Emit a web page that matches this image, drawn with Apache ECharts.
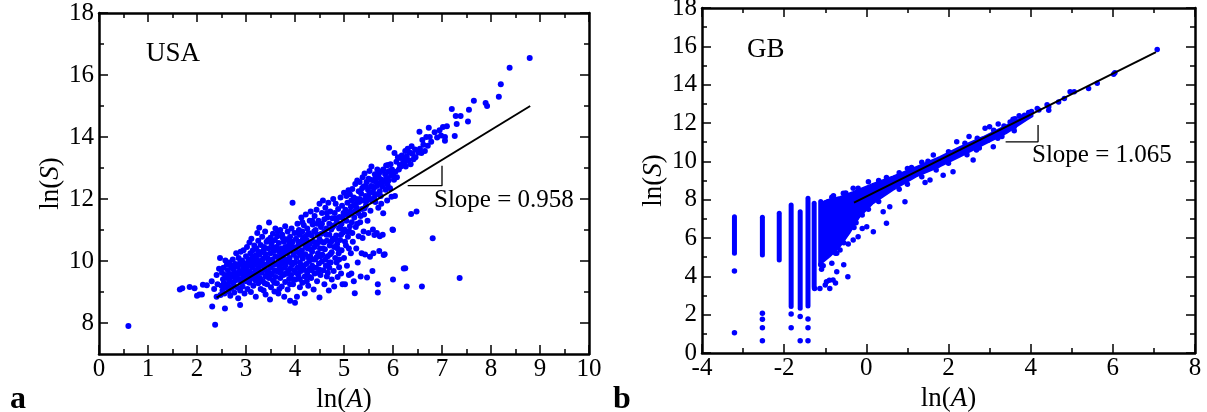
<!DOCTYPE html>
<html>
<head>
<meta charset="utf-8">
<script src="https://cdn.jsdelivr.net/npm/echarts@6/dist/echarts.min.js"></script>
<style>
html,body{margin:0;padding:0;background:#fff;}
#c{width:1207px;height:412px;}
</style>
</head>
<body>
<div id="c"></div>
<script>
// ---------------- DATA ----------------
const usaXTicks = [0,1,2,3,4,5,6,7,8,9,10];
const usaXMinor = [0.5,1.5,2.5,3.5,4.5,5.5,6.5,7.5,8.5,9.5];
const usaYTicks = [8,10,12,14,16,18];
const usaYMinor = [9,11,13,15,17];
const gbXTicks = [-4,-2,0,2,4,6,8];
const gbXMinor = [-3,-1,1,3,5,7];
const gbYTicks = [0,2,4,6,8,10,12,14,16,18];
const gbYMinor = [1,3,5,7,9,11,13,15,17];

const usaPoints = [
[0.60,7.90],[1.65,9.08],[1.70,9.12],[1.85,9.16],[1.95,9.12],[2.00,8.88],[2.05,8.92],[2.10,8.92],[2.12,9.23],[2.20,9.22],[2.30,9.35],[2.31,8.53],[2.37,7.94],[2.35,9.10],[2.40,9.55],[2.42,9.25],[2.45,9.75],[2.47,10.10],[2.48,8.90],[2.57,8.47],[2.88,8.58],[2.40,8.85],
[2.50,9.20],[2.51,9.62],[2.52,9.05],[2.53,9.41],[2.54,9.78],[2.55,9.30],[2.56,8.95],[2.57,9.55],[2.58,10.02],[2.59,9.15],[2.60,9.48],
[2.61,9.88],[2.62,9.25],[2.63,9.70],[2.64,9.02],[2.65,9.40],[2.66,9.95],[2.67,9.58],[2.68,8.88],[2.69,9.33],[2.70,9.80],
[2.71,9.12],[2.72,9.50],[2.73,10.05],[2.74,9.28],[2.75,9.72],[2.76,8.98],[2.77,9.62],[2.78,9.90],[2.79,9.38],[2.80,10.25],
[2.81,9.55],[2.82,9.15],[2.83,9.82],[2.84,8.80],[2.85,10.10],[2.86,9.42],[2.87,9.68],[2.88,9.05],[2.89,10.30],[2.90,9.90],[2.90,9.30],
[2.91,9.60],[2.92,10.02],[2.93,9.18],[2.94,9.78],[2.95,10.35],[2.96,9.45],[2.97,8.95],[2.98,9.92],[2.99,9.65],[3.00,10.15],[3.00,9.35],
[3.01,9.75],[3.02,10.45],[3.03,9.10],[3.04,9.55],[3.05,10.05],[3.06,9.85],[3.07,10.60],[3.07,9.30],[3.08,9.65],[3.09,10.25],[3.10,9.00],[3.10,9.95],
[3.11,10.72],[3.12,9.48],[3.13,9.80],[3.14,10.35],[3.15,9.20],[3.15,10.05],[3.16,9.60],[3.17,10.50],[3.18,9.88],[3.19,9.38],[3.20,10.18],[3.20,9.70],[3.20,8.85],
[3.21,10.40],[3.22,9.55],[3.23,10.90],[3.24,9.95],[3.25,9.28],[3.25,10.65],[3.26,9.78],[3.27,11.07],[3.27,10.20],[3.28,9.45],[3.29,10.00],[3.30,9.10],[3.30,10.52],[3.30,9.85],
[3.31,10.28],[3.32,9.62],[3.33,10.78],[3.34,9.35],[3.35,10.08],[3.35,9.90],[3.36,9.05],[3.37,10.45],[3.38,9.72],[3.39,10.95],[3.40,9.50],[3.40,10.22],[3.40,8.92],
[3.41,9.88],[3.42,10.62],[3.43,9.25],[3.44,10.10],[3.45,9.68],[3.46,10.40],[3.47,11.24],[3.47,9.45],[3.48,9.98],[3.49,8.76],[3.50,10.75],[3.50,9.80],[3.50,10.25],
[3.51,9.15],[3.52,10.55],[3.53,9.60],[3.54,10.05],[3.55,9.38],[3.55,10.88],[3.56,9.88],[3.57,10.32],[3.58,9.02],[3.58,9.70],[3.59,10.68],[3.60,10.15],[3.60,9.48],[3.60,11.05],
[3.61,9.90],[3.62,10.45],[3.63,9.28],[3.64,10.80],[3.65,9.65],[3.65,10.12],[3.66,8.95],[3.67,10.58],[3.68,9.82],[3.69,10.28],[3.70,9.45],[3.70,11.00],[3.70,10.00],
[3.71,9.70],[3.72,10.40],[3.73,9.18],[3.74,10.85],[3.75,9.95],[3.75,10.18],[3.76,9.55],[3.77,10.62],[3.78,8.85],[3.78,10.05],[3.79,9.78],[3.80,10.45],[3.80,9.32],[3.80,11.12],
[3.81,9.88],[3.82,10.70],[3.83,9.60],[3.84,10.25],[3.85,9.08],[3.85,10.95],[3.86,9.98],[3.87,10.50],[3.88,9.42],[3.89,10.10],[3.90,8.72],[3.90,9.75],[3.90,10.78],
[3.91,10.35],[3.92,9.55],[3.93,11.05],[3.94,9.88],[3.95,11.88],[3.95,10.62],[3.96,9.25],[3.97,10.20],[3.98,9.70],[3.99,10.90],[4.00,8.65],[4.00,10.42],[4.00,9.95],
[4.01,9.40],[4.02,10.72],[4.03,10.10],[4.04,8.85],[4.05,11.20],[4.05,9.78],[4.06,10.48],[4.07,9.55],[4.08,11.00],[4.09,10.25],[4.10,9.15],[4.10,10.85],[4.10,9.95],
[4.11,10.60],[4.12,9.68],[4.13,11.40],[4.14,10.35],[4.15,9.30],[4.15,10.95],[4.16,10.08],[4.17,9.85],[4.18,11.15],[4.19,10.55],[4.20,9.50],[4.20,10.78],[4.20,8.95],
[4.21,10.22],[4.22,11.50],[4.23,9.90],[4.24,10.68],[4.25,9.62],[4.25,11.05],[4.26,10.40],[4.27,9.20],[4.28,10.90],[4.29,10.00],[4.30,11.30],[4.30,9.75],[4.30,10.55],
[4.31,10.15],[4.32,11.60],[4.33,9.45],[4.34,10.82],[4.35,10.30],[4.35,9.85],[4.36,11.18],[4.37,10.62],[4.38,9.08],[4.39,10.95],[4.40,10.45],[4.40,9.60],[4.40,11.45],
[4.41,10.05],[4.42,11.00],[4.43,9.78],[4.44,11.65],[4.45,10.55],[4.45,9.35],[4.46,10.85],[4.47,10.25],[4.48,11.30],[4.49,9.92],[4.50,10.70],[4.50,8.82],[4.50,11.85],
[4.51,10.40],[4.52,9.55],[4.53,11.10],[4.54,10.88],[4.55,9.98],[4.55,11.55],[4.56,10.20],[4.57,11.95],[4.58,9.70],[4.59,10.60],[4.60,11.35],[4.60,9.25],[4.60,10.95],
[4.61,10.38],[4.62,11.72],[4.63,9.85],[4.64,11.05],[4.65,10.65],[4.65,9.50],[4.66,11.40],[4.67,10.15],[4.68,11.88],[4.69,9.05],[4.70,10.85],[4.70,11.20],[4.70,9.78],
[4.71,10.50],[4.72,11.60],[4.73,9.95],[4.74,11.02],[4.75,10.28],[4.75,9.40],[4.76,11.38],[4.77,10.72],[4.78,12.00],[4.79,9.68],[4.80,11.15],[4.80,10.45],[4.80,9.18],
[4.81,11.55],[4.82,10.10],[4.83,11.85],[4.84,10.82],[4.85,9.95],[4.85,11.30],[4.86,10.55],[4.87,9.48],[4.88,11.68],[4.89,10.25],[4.90,11.05],[4.90,9.80],
[4.91,11.42],[4.92,10.68],[4.93,12.05],[4.94,9.60],[4.95,11.20],[4.95,10.35],[4.96,11.78],[4.97,9.25],[4.98,10.92],[4.99,11.55],[5.00,10.10],[5.00,12.20],
[5.01,11.02],[5.02,9.25],[5.03,11.65],[5.04,10.50],[5.05,12.10],[5.05,11.30],[5.06,9.85],[5.07,11.88],[5.08,10.78],[5.09,12.28],[5.10,11.48],[5.10,9.55],
[5.11,10.95],[5.12,12.15],[5.13,11.60],[5.14,10.25],[5.15,11.95],[5.15,9.60],[5.16,11.25],[5.17,12.32],[5.18,10.62],[5.19,11.78],[5.20,9.35],[5.20,12.05],
[5.21,11.40],[5.22,8.96],[5.23,12.48],[5.24,11.10],[5.25,12.00],[5.25,10.40],[5.26,11.72],[5.27,12.60],[5.28,9.95],[5.29,11.55],[5.30,12.25],[5.30,10.80],
[5.31,11.90],[5.32,12.55],[5.33,11.25],[5.34,9.50],[5.35,12.18],[5.36,10.25],[5.37,11.68],[5.38,12.70],[5.38,10.74],[5.39,11.95],[5.40,12.40],[5.40,10.95],
[5.41,11.50],[5.42,12.82],[5.43,10.21],[5.44,12.10],[5.45,11.80],[5.46,12.55],[5.47,9.47],[5.48,11.30],[5.49,12.30],[5.50,12.65],[5.50,10.90],
[5.51,12.05],[5.52,12.90],[5.53,10.14],[5.54,11.62],[5.55,12.42],[5.56,13.05],[5.57,11.95],[5.58,9.68],[5.59,12.22],[5.59,11.02],[5.60,12.60],[5.60,10.25],
[5.61,12.35],[5.62,10.84],[5.63,12.80],[5.64,11.90],[5.65,12.55],[5.66,12.15],[5.67,10.90],[5.68,12.95],[5.69,9.25],[5.69,8.98],[5.70,12.48],[5.70,11.72],
[5.71,12.70],[5.72,10.32],[5.73,12.25],[5.73,10.80],[5.74,12.88],[5.75,12.10],[5.76,11.85],[5.77,12.62],[5.78,12.40],[5.79,10.85],[5.80,12.95],[5.80,11.54],
[5.81,10.19],[5.82,12.55],[5.83,10.22],[5.84,12.80],[5.85,12.30],[5.86,13.08],[5.87,12.68],[5.88,11.95],[5.89,12.45],[5.90,13.10],[5.90,12.88],
[5.91,12.60],[5.92,13.65],[5.93,12.90],[5.94,12.35],[5.95,13.12],[5.96,12.75],[5.97,12.07],[5.98,12.95],[5.99,11.02],[6.00,12.80],[6.00,9.40],[6.00,11.00],
[6.02,12.62],[6.03,13.48],[6.04,12.10],[6.05,12.88],[6.07,13.20],[6.08,12.70],[6.10,13.35],[6.12,12.95],[6.14,13.10],[6.15,13.32],[6.16,13.05],[6.18,13.40],[6.20,13.15],[6.22,9.76],
[6.22,13.30],[6.24,13.15],[6.25,13.55],[6.26,13.05],[6.28,13.38],[6.30,13.62],[6.32,13.25],[6.34,13.50],[6.36,13.12],[6.37,11.52],[6.38,13.70],[6.40,13.45],[6.42,13.28],[6.45,13.60],[6.46,13.35],[6.48,11.60],[6.28,9.18],[6.25,9.77],
[6.52,13.50],[6.54,14.17],[6.55,13.62],[6.58,13.48],[6.60,13.90],[6.62,13.75],[6.65,13.55],[6.68,14.00],[6.71,13.72],[6.73,14.30],[6.75,14.00],[6.78,13.85],[6.81,10.73],[6.85,14.15],[6.90,13.98],[6.95,14.22],[6.98,14.05],[6.59,9.18],
[7.02,14.32],[7.06,14.00],[7.06,13.88],[7.10,14.35],[7.20,14.90],[7.26,14.03],[7.28,14.68],[7.30,14.42],[7.38,14.68],[7.36,9.45],[7.53,14.50],[7.55,14.88],
[7.65,15.17],[7.89,15.10],[7.92,15.00],[8.16,15.30],[8.20,15.70],[8.38,16.23],[8.79,16.55],
[2.95,9.55],[3.03,9.88],[3.08,9.42],[3.13,10.15],[3.18,9.55],[3.22,10.05],[3.27,9.62],[3.32,9.98],[3.36,10.35],[3.38,9.28],[3.43,9.58],[3.46,10.02],[3.52,9.92],[3.56,10.42],[3.58,9.30],[3.62,9.68],[3.66,10.35],[3.68,9.10],[3.72,9.92],[3.76,10.30],[3.79,9.58],[3.82,10.05],[3.86,9.68],[3.88,10.62],[3.92,9.95],[3.94,10.48],[3.97,9.40],[4.02,9.62],[4.04,10.30],[4.07,10.62],[4.11,9.82],[4.13,10.18],[4.16,10.70],[4.19,9.72],[4.22,10.45],[4.24,9.35],[4.27,10.12],[4.32,10.38],[4.34,9.70],[4.37,10.05],[4.42,10.60],[4.44,10.12],[4.47,9.62],[4.52,10.15],[4.54,10.62],[4.57,10.40],[4.62,10.05],[4.64,10.85],[4.67,9.62],[4.72,10.22],[4.74,10.62],[4.77,11.10],[4.82,10.70],[4.84,11.38],[4.87,10.40],[4.92,11.10],[4.94,10.85],[4.97,11.40],[5.02,10.62],[5.04,11.50],[5.07,10.95],[5.12,11.12],[5.14,11.75],[5.17,10.90],[5.22,11.60],[5.24,11.85],[5.27,11.20],[5.32,12.00],[5.34,11.45],[5.37,12.35],[5.42,11.70],[5.44,12.42],[5.47,11.95],[5.52,12.20],[5.54,12.62],[5.57,12.40],[5.62,12.05],[5.64,12.68],[5.67,12.42],[5.72,12.85],[5.75,12.55],
[2.65,9.15],[2.72,9.85],[2.78,9.48],[2.84,9.60],[2.88,9.95],[2.92,9.42],[2.97,9.75],[3.15,9.45],[3.25,10.30],[3.45,10.68],[3.55,10.65],[3.65,10.95],[3.75,10.75],[3.85,10.38],[4.05,10.90],[4.15,11.25],[4.25,10.85],[4.35,11.30],[4.45,11.20],[4.55,11.20],[4.65,11.55],[3.30,9.40],[3.50,9.55],[3.70,9.62],[3.90,9.25],[4.10,9.42],[4.30,9.48],[4.50,9.72],[4.70,9.95],[4.90,10.05],[5.10,10.40]
];
const usaFit = [[2.4,8.82],[8.8,15.0]];
const usaBracket = [[6.3,12.43],[7.0,12.43],[7.0,13.07]];

const gbBands = [
[-3.21,5.20,7.11],[-2.53,5.11,7.08],[-2.12,4.85,7.29],[-1.83,2.42,7.72],
[-1.61,2.33,7.37],[-1.42,2.45,8.08],[-1.27,3.45,7.81],[-1.11,4.68,7.90]
];
const gbHull = [
[-1.13,7.81],[-0.97,7.98],[-0.64,8.15],[-0.32,8.41],[0.17,8.85],[0.65,9.23],[1.22,9.72],[1.79,10.24],[2.28,10.76],[2.84,11.28],[3.41,11.89],[3.90,12.42],[4.05,12.50],
[4.05,12.35],[3.90,12.15],[3.41,11.46],[2.84,10.85],[2.28,10.24],[1.79,9.72],[1.22,9.20],[0.65,8.50],[0.17,7.81],[-0.16,7.11],[-0.41,6.24],[-0.64,5.55],[-0.89,5.02],[-1.09,4.68],[-1.13,5.00]
];
const gbPoints = [
[7.08,15.84],[6.05,14.62],[6.02,14.55],[5.62,14.07],[5.41,13.80],[5.06,13.63],[4.96,13.63],[4.82,13.28],[4.68,13.10],[4.44,12.85],[4.40,12.95],[4.44,12.67],[4.20,12.68],[4.16,12.76],[4.02,12.60],[3.95,12.55],[3.85,12.40],[3.80,12.30],[3.72,12.38],[3.62,12.22],[3.57,12.19],
[3.21,11.95],[2.89,11.72],[2.20,11.02],[1.63,10.33],[0.49,9.16],[0.05,8.94],[1.00,9.62],[1.35,9.95],[2.50,11.30],[3.00,11.80],[3.35,11.85],[3.40,11.70],
[3.09,10.76],[2.96,11.10],[2.68,10.59],[2.60,10.07],[2.11,9.46],[1.87,9.28],[1.55,9.03],[1.43,8.89],[0.94,7.89],[0.57,7.63],[0.41,7.37],[0.49,6.77],[0.17,6.33],[0.01,6.59],[3.30,11.30],[3.60,11.80],
[-0.32,8.59],[-0.56,8.33],[-0.84,8.12],[-1.00,7.83],[-0.20,8.60],[-0.72,4.24],[-0.81,3.81],[-0.97,3.72],[-0.89,3.37],[-1.09,4.37],[-1.13,3.37],[-0.45,3.98],[-0.64,5.37],[-0.32,5.90],[-0.44,5.69],[-0.20,6.07],[-0.72,5.20],[-0.84,4.68],[-0.90,3.80],[-1.00,3.55],[-0.75,3.65],[-0.55,4.60],[-1.05,4.55],[-0.10,6.50],[-0.25,6.80],
[-3.21,4.28],[-3.21,1.06],[-2.53,2.07],[-2.53,1.76],[-2.53,1.32],[-2.53,0.64],[-1.83,2.03],[-1.83,1.32],[-1.61,1.90],[-1.61,0.64],[-1.42,1.77],[-1.42,1.32],[-1.42,0.64],[-1.26,3.37],[-1.11,4.60],
[-0.80,8.20],[-0.50,8.35],[0.30,9.00],[0.80,9.40],[1.10,9.68],[1.50,10.00],[2.00,10.50],[2.40,10.95],[2.70,11.20],[3.10,11.62],[3.50,12.05],
[0.30,7.90],[0.80,8.55],[1.00,8.80],[1.35,9.20],[1.70,9.55],[2.00,9.90],[2.45,10.35],[2.75,10.70],[3.20,11.20],[3.60,11.60],[-0.30,6.55],[-0.55,5.75],[-0.75,5.20],[-0.10,7.20],[0.05,7.50]
];
const gbFit = [[-0.3,7.85],[7.05,15.7]];
const gbBracket = [[3.39,11.02],[4.18,11.02],[4.18,11.89]];

// ---------------- CHART ----------------
const FONT = 'Liberation Serif';
const BLUE = '#0000ff';
const chart = echarts.init(document.getElementById('c'), null, {renderer:'canvas'});

function nameRich(letter){
  return {
    name: '{n|ln(}{i|' + letter + '}{n|)}',
    nameTextStyle: {
      rich: {
        n: {fontFamily: FONT, fontSize: 27, color: '#000'},
        i: {fontFamily: FONT, fontSize: 27, color: '#000', fontStyle: 'italic'}
      }
    }
  };
}

function axisSet(gridIndex, isX, min, max, majors, minors, nameLetter, nameGap) {
  const posMain = isX ? 'bottom' : 'left';
  const posOpp = isX ? 'top' : 'right';
  const common = {type: 'value', gridIndex, min, max, splitLine: {show: false}};
  const tickStyle = {color: '#000', width: 1.5};
  const main = Object.assign({}, common, {
    position: posMain,
    axisLine: {show: true, onZero: false, lineStyle: {color: '#000', width: 2.5}},
    axisTick: {show: true, inside: true, length: 9, customValues: majors, lineStyle: tickStyle},
    axisLabel: {show: true, customValues: majors, fontFamily: FONT, fontSize: 25, color: '#000', margin: isX ? 3 : 5},
    nameLocation: 'middle',
    nameGap: nameGap
  }, nameRich(nameLetter));
  const mainMinor = Object.assign({}, common, {
    position: posMain,
    axisLine: {show: false, onZero: false},
    axisTick: {show: true, inside: true, length: 5, customValues: minors, lineStyle: tickStyle},
    axisLabel: {show: false}
  });
  const opp = Object.assign({}, common, {
    position: posOpp,
    axisLine: {show: true, onZero: false, lineStyle: {color: '#000', width: 2.5}},
    axisTick: {show: true, inside: true, length: 9, customValues: majors, lineStyle: tickStyle},
    axisLabel: {show: false}
  });
  const oppMinor = Object.assign({}, common, {
    position: posOpp,
    axisLine: {show: false, onZero: false},
    axisTick: {show: true, inside: true, length: 5, customValues: minors, lineStyle: tickStyle},
    axisLabel: {show: false}
  });
  return [main, mainMinor, opp, oppMinor];
}

const xAxes = axisSet(0, true, 0, 10, usaXTicks, usaXMinor, 'A', 21)
  .concat(axisSet(1, true, -4, 8, gbXTicks, gbXMinor, 'A', 21));
const yAxes = axisSet(0, false, 7, 18, usaYTicks, usaYMinor, 'S', 35)
  .concat(axisSet(1, false, 0, 18, gbYTicks, gbYMinor, 'S', 35));

function textG(text, x, y, size, weight, align) {
  return {
    type: 'text', x: x, y: y, silent: true,
    style: {text: text, fontFamily: FONT, fontSize: size, fontWeight: weight || 'normal',
            fill: '#000', textAlign: align || 'left', textVerticalAlign: 'middle'}
  };
}

const option = {
  animation: false,
  backgroundColor: '#fff',
  grid: [
    {left: 99, top: 13, width: 490, height: 341, outerBoundsMode: 'none', containLabel: false},
    {left: 702, top: 8, width: 493, height: 345, outerBoundsMode: 'none', containLabel: false}
  ],
  xAxis: xAxes,
  yAxis: yAxes,
  graphic: [
    textG('USA', 146, 54, 27),
    textG('Slope = 0.958', 434, 200, 25),
    textG('GB', 747, 50, 27),
    textG('Slope = 1.065', 1032, 155, 25),
    textG('a', 10, 400, 32, 'bold'),
    textG('b', 613, 400, 32, 'bold')
  ],
  series: [
    {type: 'scatter', xAxisIndex: 0, yAxisIndex: 0, data: usaPoints, symbolSize: 6,
     itemStyle: {color: BLUE, opacity: 1}, z: 2},
    {type: 'line', xAxisIndex: 0, yAxisIndex: 0, data: usaFit, symbol: 'none',
     lineStyle: {color: '#000', width: 2}, z: 3},
    {type: 'line', xAxisIndex: 0, yAxisIndex: 0, data: usaBracket, symbol: 'none',
     lineStyle: {color: '#000', width: 1.3}, z: 3},
    {type: 'custom', xAxisIndex: 4, yAxisIndex: 4, data: gbHull, z: 2,
     renderItem: function (params, api) {
       if (params.dataIndex !== 0) return null;
       const pts = gbHull.map(function (p) { return api.coord(p); });
       return {type: 'polygon', shape: {points: pts},
               style: {fill: BLUE, stroke: BLUE, lineWidth: 1.5, lineJoin: 'round'}};
     }},
    {type: 'custom', xAxisIndex: 4, yAxisIndex: 4, data: gbBands, z: 2,
     encode: {x: 0, y: [1, 2]},
     renderItem: function (params, api) {
       const a = api.coord([api.value(0), api.value(1)]);
       const b = api.coord([api.value(0), api.value(2)]);
       return {type: 'line', shape: {x1: a[0], y1: a[1], x2: b[0], y2: b[1]},
               style: {stroke: BLUE, lineWidth: 5, lineCap: 'round'}};
     }},
    {type: 'scatter', xAxisIndex: 4, yAxisIndex: 4, data: gbPoints, symbolSize: 5.5,
     itemStyle: {color: BLUE, opacity: 1}, z: 2},
    {type: 'line', xAxisIndex: 4, yAxisIndex: 4, data: gbFit, symbol: 'none',
     lineStyle: {color: '#000', width: 2}, z: 3},
    {type: 'line', xAxisIndex: 4, yAxisIndex: 4, data: gbBracket, symbol: 'none',
     lineStyle: {color: '#000', width: 1.3}, z: 3}
  ]
};
chart.setOption(option);
</script>
</body>
</html>
